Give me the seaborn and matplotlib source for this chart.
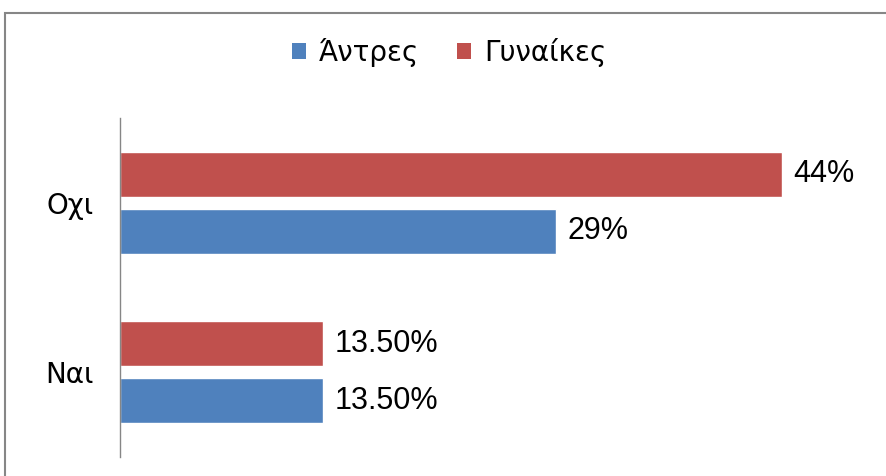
import matplotlib
matplotlib.use("Agg")
import matplotlib.pyplot as plt
import seaborn as sns
import pandas as pd
from matplotlib.patches import Rectangle, Patch

# Δεδομένα
apantiseis = ['Οχι', 'Ναι']
fylo = ['Άντρες', 'Γυναίκες']
antres = [0.29, 0.135]
gynaikes = [0.44, 0.135]
etiketes_antres = ['29%', '13.50%']
etiketes_gynaikes = ['44%', '13.50%']

xromata = {'Άντρες': '#4F81BD', 'Γυναίκες': '#C0504D'}

df = pd.DataFrame({
    'Απάντηση': apantiseis * 2,
    'Φύλο': ['Άντρες'] * 2 + ['Γυναίκες'] * 2,
    'Ποσοστό': antres + gynaikes,
})

sns.set_style("white")
plt.rcParams['font.family'] = ['DejaVu Sans']
plt.rcParams['text.color'] = 'black'
plt.rcParams['ytick.color'] = 'black'

fig = plt.figure(figsize=(8.86, 4.76), dpi=100)
ax = fig.add_axes([120 / 886, 19 / 476, 752 / 886, 339 / 476])

# Γυναίκες πρώτα ώστε να βρίσκονται πάνω σε κάθε κατηγορία
sns.barplot(data=df, y='Απάντηση', x='Ποσοστό', hue='Φύλο',
            order=apantiseis, hue_order=['Γυναίκες', 'Άντρες'],
            palette=xromata, orient='h', width=0.67, gap=0.21,
            saturation=1, legend=False, ax=ax)

ax.bar_label(ax.containers[0], labels=etiketes_gynaikes, padding=8,
             fontsize=22, color='black', family='Liberation Sans')
ax.bar_label(ax.containers[1], labels=etiketes_antres, padding=8,
             fontsize=22, color='black', family='Liberation Sans')

ax.set_xlim(0, 0.5)
ax.set_ylim(1.5, -0.5)
ax.set_xlabel('')
ax.set_ylabel('')
ax.set_xticks([])
ax.tick_params(axis='y', length=0, pad=19, labelsize=20, labelcolor='black')
for s in ['top', 'right', 'bottom']:
    ax.spines[s].set_visible(False)
ax.spines['left'].set_color('#868686')
ax.spines['left'].set_linewidth(1)

handles = [Patch(facecolor=xromata[f], edgecolor='none') for f in fylo]
fig.legend(handles, fylo, loc='center', bbox_to_anchor=(449 / 886, 0.89),
           ncol=2, frameon=False, fontsize=20, labelcolor='black',
           handlelength=0.5, handleheight=0.5, handletextpad=0.45,
           columnspacing=1.4)

# Πλαίσιο γραφήματος
fig.patches.append(Rectangle((5 / 886, -0.2), 1.2, 0.2 + (476 - 13) / 476,
                             transform=fig.transFigure, fill=False,
                             edgecolor='#868686', linewidth=1.5))

fig.savefig('out.png', dpi=100)
